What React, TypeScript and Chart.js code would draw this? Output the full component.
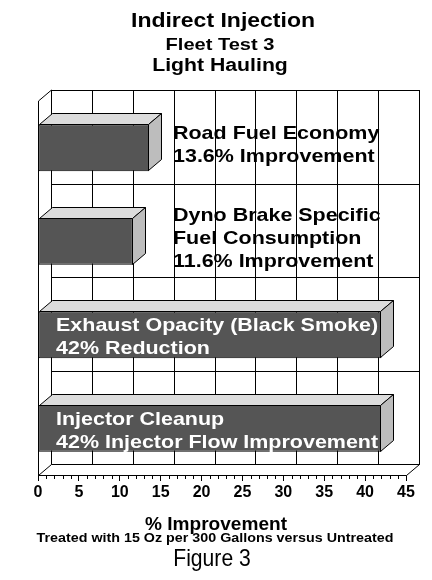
import { useEffect, useRef } from 'react';
import { Chart, registerables } from 'chart.js';

Chart.register(...registerables);

const categories = [
  'Road Fuel Economy',
  'Dyno Brake Specific Fuel Consumption',
  'Exhaust Opacity (Black Smoke)',
  'Injector Cleanup',
];
const improvement = [13.6, 11.6, 42, 42];
const barLabelLines = [
  ['Road Fuel Economy', '13.6% Improvement'],
  ['Dyno Brake Specific', 'Fuel Consumption', '11.6% Improvement'],
  ['Exhaust Opacity (Black Smoke)', '42% Reduction'],
  ['Injector Cleanup', '42% Injector Flow Improvement'],
];
const labelInside = [false, false, true, true];
const axisMin = 0;
const axisMax = 45;
const axisStep = 5;
const titleLines = ['Indirect Injection', 'Fleet Test 3', 'Light Hauling'];
const axisTitle = '% Improvement';
const axisSubtitle = 'Treated with 15 Oz per 300 Gallons versus Untreated';
const caption = 'Figure 3';

const FONT = '"Liberation Sans", Arial, Helvetica, sans-serif';
const DX = 13;
const DY = 11;

function drawText(
  ctx: CanvasRenderingContext2D,
  text: string,
  x: number,
  y: number,
  font: string,
  sx: number,
  align: CanvasTextAlign,
  color = '#000'
) {
  ctx.save();
  ctx.font = font;
  ctx.fillStyle = color;
  ctx.textAlign = align;
  ctx.textBaseline = 'alphabetic';
  ctx.translate(x, y);
  ctx.scale(sx, 1);
  ctx.fillText(text, 0, 0);
  ctx.restore();
}

const threeDPlugin = {
  id: 'threeD',
  beforeDatasetsDraw(chart: any) {
    const { ctx, chartArea, scales } = chart;
    const { left, right, top, bottom } = chartArea;
    const xs = scales.x;
    const ys = scales.y;
    ctx.save();
    ctx.lineWidth = 1;
    ctx.strokeStyle = '#000';
    // back wall
    ctx.fillStyle = '#fff';
    ctx.fillRect(left + DX, top - DY, right - left, bottom - top);
    ctx.strokeRect(left + DX + 0.5, top - DY + 0.5, right - left, bottom - top);
    // vertical grid lines on back wall
    for (let v = axisMin + axisStep; v < axisMax; v += axisStep) {
      const x = Math.round(xs.getPixelForValue(v) + DX) + 0.5;
      ctx.beginPath();
      ctx.moveTo(x, top - DY);
      ctx.lineTo(x, bottom - DY);
      ctx.stroke();
    }
    // horizontal grid lines at category boundaries
    for (let i = 0; i < categories.length - 1; i++) {
      const y = Math.round((ys.getPixelForValue(i) + ys.getPixelForValue(i + 1)) / 2 - DY) + 0.5;
      ctx.beginPath();
      ctx.moveTo(left + DX, y);
      ctx.lineTo(right + DX, y);
      ctx.stroke();
    }
    // left wall
    ctx.beginPath();
    ctx.moveTo(left + 0.5, bottom);
    ctx.lineTo(left + 0.5, top);
    ctx.lineTo(left + DX + 0.5, top - DY);
    ctx.stroke();
    // floor
    ctx.beginPath();
    ctx.moveTo(left + 0.5, bottom + 0.5);
    ctx.lineTo(right + 0.5, bottom + 0.5);
    ctx.lineTo(right + DX + 0.5, bottom - DY + 0.5);
    ctx.lineTo(left + DX + 0.5, bottom - DY + 0.5);
    ctx.closePath();
    ctx.fillStyle = '#fff';
    ctx.fill();
    ctx.stroke();
    // minor ticks
    for (let v = axisMin; v <= axisMax; v += 1) {
      if (v % axisStep === 0) continue;
      const x = Math.round(xs.getPixelForValue(v)) + 0.5;
      ctx.beginPath();
      ctx.moveTo(x, bottom);
      ctx.lineTo(x, bottom + 4);
      ctx.stroke();
    }
    ctx.restore();
  },
  afterDatasetsDraw(chart: any) {
    const { ctx, chartArea } = chart;
    const meta = chart.getDatasetMeta(0);
    ctx.save();
    ctx.lineWidth = 1;
    ctx.strokeStyle = '#000';
    ctx.lineJoin = 'miter';
    meta.data.forEach((el: any, i: number) => {
      const { x, y, base, height } = el.getProps(['x', 'y', 'base', 'height'], true);
      const t = Math.round(y - height / 2) + 0.5;
      const b = Math.round(y + height / 2) - 0.5;
      const xe = Math.round(x) - 0.5;
      const xb = Math.round(base) + 0.5;
      // top face
      ctx.beginPath();
      ctx.moveTo(xb, t);
      ctx.lineTo(xe, t);
      ctx.lineTo(xe + DX, t - DY);
      ctx.lineTo(xb + DX, t - DY);
      ctx.closePath();
      ctx.fillStyle = '#dcdcdc';
      ctx.fill();
      ctx.stroke();
      // side face
      ctx.beginPath();
      ctx.moveTo(xe, t);
      ctx.lineTo(xe + DX, t - DY);
      ctx.lineTo(xe + DX, b - DY);
      ctx.lineTo(xe, b);
      ctx.closePath();
      ctx.fillStyle = '#bdbdbd';
      ctx.fill();
      ctx.stroke();

      const lines = barLabelLines[i];
      const inside = labelInside[i];
      const lh = 23;
      const cy = y + (inside ? 8 : 3);
      const lx = inside ? chartArea.left + 18 : chartArea.left + 135;
      lines.forEach((line, k) => {
        const by = cy + (k - (lines.length - 1) / 2) * lh;
        drawText(ctx, line, lx, by, `bold 19px ${FONT}`, 1.13, 'left', inside ? '#fff' : '#000');
      });
    });
    ctx.restore();
  },
  afterDraw(chart: any) {
    const { ctx } = chart;
    drawText(ctx, titleLines[0], 223, 27, `bold 20px ${FONT}`, 1.15, 'center');
    drawText(ctx, titleLines[1], 220, 50, `bold 17px ${FONT}`, 1.18, 'center');
    drawText(ctx, titleLines[2], 220, 71, `bold 18px ${FONT}`, 1.18, 'center');
    drawText(ctx, axisTitle, 216, 530, `bold 18px ${FONT}`, 1.06, 'center');
    drawText(ctx, axisSubtitle, 215, 542, `bold 13px ${FONT}`, 1.1, 'center');
    drawText(ctx, caption, 212, 566, `24px ${FONT}`, 0.88, 'center');
  },
};

export default function App() {
  const ref = useRef<HTMLCanvasElement | null>(null);
  useEffect(() => {
    document.body.style.margin = '0';
    const canvas = ref.current;
    if (!canvas) return;
    Chart.defaults.font.family = FONT;
    const chart = new Chart(canvas, {
      type: 'bar',
      data: {
        labels: categories,
        datasets: [
          {
            data: improvement,
            backgroundColor: '#555555',
            borderColor: '#000',
            borderWidth: 1,
            borderSkipped: false,
            categoryPercentage: 1,
            barPercentage: 0.5,
          },
        ],
      },
      options: {
        indexAxis: 'y',
        animation: false,
        responsive: false,
        devicePixelRatio: 1,
        layout: { padding: { left: 38, right: 26, top: 101, bottom: 0 } },
        plugins: {
          legend: { display: false },
          tooltip: { enabled: false },
          title: { display: false },
        },
        scales: {
          x: {
            type: 'linear',
            min: axisMin,
            max: axisMax,
            ticks: {
              stepSize: axisStep,
              color: '#000',
              font: { family: FONT, size: 16, weight: 'bold' },
              padding: 2,
              maxRotation: 0,
            },
            grid: {
              drawOnChartArea: false,
              drawTicks: true,
              tickLength: 6,
              color: '#000',
            },
            border: { display: true, color: '#000' },
            afterFit(scale: any) {
              scale.height = 105;
            },
          },
          y: {
            type: 'category',
            display: false,
          },
        },
      },
      plugins: [threeDPlugin],
    } as any);
    return () => chart.destroy();
  }, []);
  return <canvas ref={ref} width={432} height={580} style={{ display: 'block' }} />;
}
